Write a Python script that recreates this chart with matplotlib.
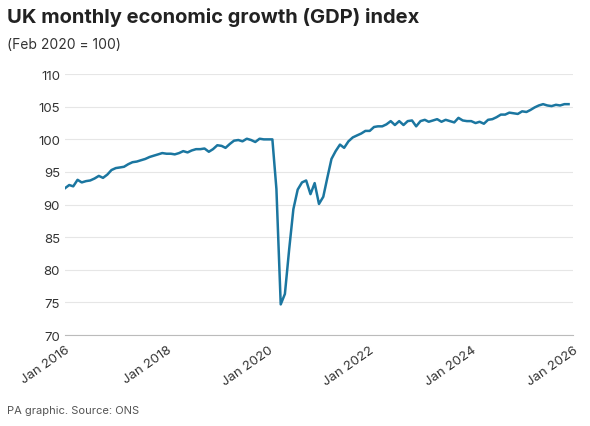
import matplotlib
matplotlib.use("Agg")
import matplotlib.pyplot as plt
import pandas as pd

plt.rcParams['font.family'] = ['Inter', 'DejaVu Sans']

values = [
    92.5, 93.0, 92.8, 93.8, 93.4, 93.6, 93.7, 94.0, 94.4, 94.1, 94.6, 95.3,
    95.6, 95.7, 95.8, 96.2, 96.5, 96.6, 96.8, 97.0, 97.3, 97.5, 97.7, 97.9,
    97.8, 97.8, 97.7, 97.9, 98.2, 98.0, 98.3, 98.5, 98.5, 98.6, 98.1, 98.5,
    99.1, 99.0, 98.7, 99.3, 99.8, 99.9, 99.7, 100.1, 99.9, 99.6, 100.1, 100.0,
    100.0, 100.0, 92.4, 74.7, 76.3, 83.2, 89.3, 92.3, 93.4, 93.7, 91.6, 93.3,
    90.1, 91.2, 94.0, 97.0, 98.2, 99.2, 98.7, 99.7, 100.3, 100.6, 100.9, 101.3,
    101.3, 101.9, 102.0, 102.0, 102.3, 102.8, 102.2, 102.8, 102.2, 102.8, 102.9, 102.0,
    102.8, 103.0, 102.7, 102.9, 103.1, 102.7, 103.0, 102.8, 102.6, 103.3, 102.9, 102.8,
    102.8, 102.5, 102.7, 102.4, 103.0, 103.1, 103.4, 103.8, 103.8, 104.1, 104.0, 103.9,
    104.3, 104.2, 104.5, 104.9, 105.2, 105.4, 105.2, 105.1, 105.3, 105.2, 105.4, 105.4,
]
dates = pd.date_range("2016-01-01", periods=len(values), freq="MS")
tick_years = [2016, 2018, 2020, 2022, 2024, 2026]
tick_labels = [f"Jan {y}" for y in tick_years]
yticks = [70, 75, 80, 85, 90, 95, 100, 105, 110]

fig = plt.figure(figsize=(5.9, 4.27), dpi=100)
ax = fig.add_axes([0.110, 0.213, 0.861, 0.611])
ax.plot(dates, values, color="#1b76a0", lw=1.8)
ax.set_ylim(70, 110)
ax.set_xlim(pd.Timestamp("2016-01-01"), pd.Timestamp("2026-01-01"))
ax.set_yticks(yticks)
ax.set_xticks([pd.Timestamp(f"{y}-01-01") for y in tick_years])
ax.set_xticklabels(tick_labels, rotation=35, ha="right", rotation_mode="anchor")
ax.grid(axis="y", color="#e6e6e6", lw=0.8)
ax.set_axisbelow(True)
for s in ["top", "right", "left"]:
    ax.spines[s].set_visible(False)
ax.spines["bottom"].set_color("#bbbbbb")
ax.tick_params(axis="y", length=0, labelsize=9.5, colors="#333333")
ax.tick_params(axis="x", length=0, labelsize=9.5, colors="#333333", pad=6)

fig.text(0.012, 0.945, "UK monthly economic growth (GDP) index", fontsize=14.5,
         fontweight="bold", color="#222222")
fig.text(0.012, 0.885, "(Feb 2020 = 100)", fontsize=10, color="#333333")
fig.text(0.012, 0.03, "PA graphic. Source: ONS", fontsize=8, color="#555555")
fig.savefig("out.png", dpi=100)
